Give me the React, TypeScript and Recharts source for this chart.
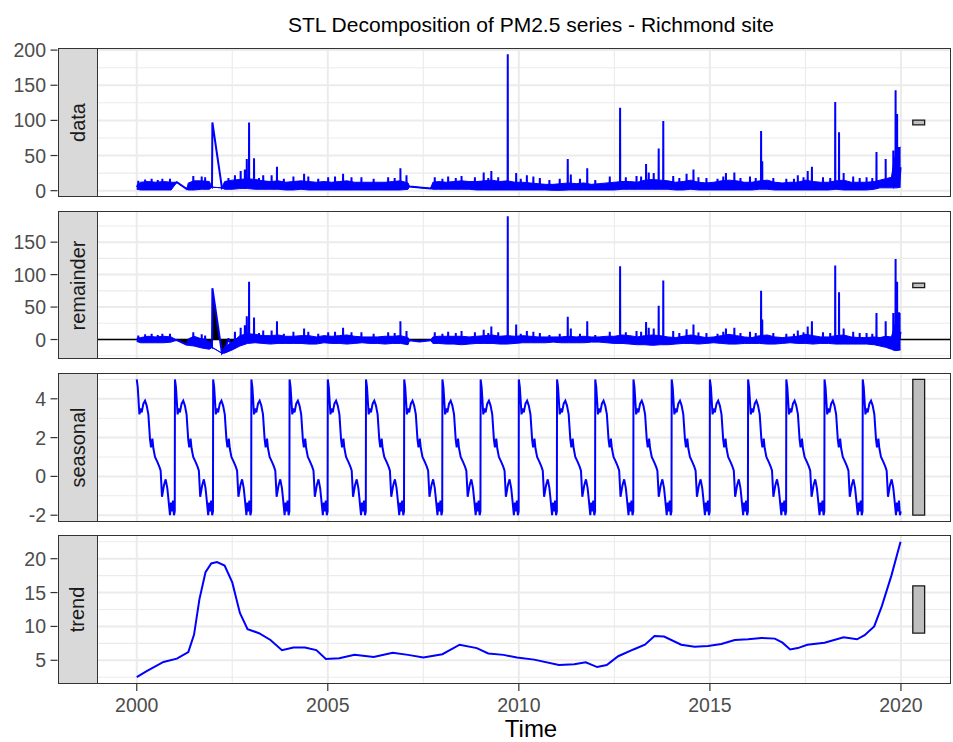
import React from 'react';
import { Area, CartesianGrid, ComposedChart, Line, ReferenceArea, XAxis, YAxis } from 'recharts';

const FONT = '"Liberation Sans", Arial, Helvetica, sans-serif';
const BLUE = '#0000FF';
const X_MIN = 1998.96;
const X_MAX = 2021.31;
const PAD = 20;

const xMajor = [2000, 2005, 2010, 2015, 2020];
const xMinor = [2002.5, 2007.5, 2012.5, 2017.5];

const panelLabels = ['data', 'remainder', 'seasonal', 'trend'];

// noise band of the daily series (lower / upper envelope), shared times
const bandTime = [
  2000.0, 2000.1, 2000.3, 2000.5, 2000.7, 2000.9, 2001.05, 2001.31, 2001.35, 2001.5,
  2001.7, 2001.9, 2001.97, 2002.23, 2002.3, 2002.5, 2002.7, 2002.9, 2003.1, 2003.3,
  2003.5, 2003.7, 2003.9, 2004.1, 2004.3, 2004.5, 2004.7, 2004.9, 2005.1, 2005.3,
  2005.5, 2005.7, 2005.9, 2006.1, 2006.3, 2006.5, 2006.7, 2006.9, 2007.1, 2007.14,
  2007.4, 2007.69, 2007.75, 2007.9, 2008.1, 2008.3, 2008.5, 2008.7, 2008.9, 2009.1,
  2009.3, 2009.5, 2009.7, 2009.9, 2010.1, 2010.3, 2010.5, 2010.7, 2010.9, 2011.1,
  2011.3, 2011.5, 2011.7, 2011.9, 2012.1, 2012.3, 2012.5, 2012.7, 2012.9, 2013.1,
  2013.3, 2013.5, 2013.7, 2013.9, 2014.1, 2014.3, 2014.5, 2014.7, 2014.9, 2015.1,
  2015.3, 2015.5, 2015.7, 2015.9, 2016.1, 2016.3, 2016.5, 2016.7, 2016.9, 2017.1,
  2017.3, 2017.5, 2017.7, 2017.9, 2018.1, 2018.3, 2018.5, 2018.7, 2018.9, 2019.1,
  2019.3, 2019.45, 2019.6, 2019.75, 2019.83, 2019.9, 2019.99,
];
const dataLow = [
  2, 1, 1, 1, 1, 1, 12, 2.4, 1, 1,
  2, 2, 5, 4, 2, 2, 3, 3, 2, 2,
  2, 2, 1, 1, 2, 1, 1, 1, 1, 1,
  1, 1, 1, 1, 1, 1, 1, 1, 2, 6,
  4.5, 3, 2, 2, 2, 2, 2, 2, 1, 1,
  1, 1, 1, 1, 1, 1, 1, 1, 0.5, 0.5,
  1, 1, 1, 1, 1, 1, 1, 2, 2, 2,
  2, 2, 2, 2, 1, 1, 2, 1, 1, 1,
  1, 1, 1, 1, 1, 2, 2, 1, 1, 1,
  1, 1, 1, 1, 1, 2, 1, 1, 1, 1,
  2, 4, 4, 4, 4, 4, 5,
];
const dataHigh = [
  8, 12, 13, 12, 13, 12, 12, 2.4, 11, 14,
  14, 13, 5, 4, 13, 15, 16, 17, 16, 14,
  13, 14, 12, 13, 14, 13, 12, 13, 12, 13,
  14, 12, 12, 12, 12, 12, 13, 14, 11, 6,
  4.5, 3, 12, 13, 12, 13, 14, 13, 13, 14,
  15, 13, 14, 12, 12, 11, 10, 9, 9, 10,
  11, 10, 11, 9, 10, 11, 12, 13, 13, 12,
  15, 16, 15, 14, 12, 13, 15, 12, 11, 12,
  14, 15, 14, 12, 12, 14, 15, 12, 11, 12,
  12, 15, 13, 12, 12, 14, 15, 12, 12, 12,
  13, 15, 17, 19, 45, 58, 62,
];
const remLow = [
  -3, -5, -5, -5, -5, -4, -1, -8, -9, -10,
  -13, -15, -12, -21, -21, -16, -10, -6, -5, -6,
  -7, -6, -6, -6, -6, -7, -7, -5, -6, -6,
  -7, -6, -5, -6, -6, -7, -6, -6, -8, -1,
  -3, -1, -6, -6, -7, -7, -8, -7, -6, -6,
  -6, -7, -7, -6, -5, -5, -5, -5, -4, -5,
  -5, -5, -5, -4, -4, -5, -6, -6, -7, -8,
  -8, -9, -8, -8, -7, -6, -6, -7, -6, -5,
  -6, -7, -7, -6, -6, -6, -7, -7, -6, -5,
  -6, -6, -7, -6, -6, -7, -7, -7, -7, -7,
  -8, -10, -12, -15, -17, -17, -16,
];
const remHigh = [
  2, 3, 5, 4, 5, 4, -1, -8, 1, 5,
  1, -3, -12, -21, -11, -4, 6, 9, 8, 6,
  6, 7, 5, 5, 6, 6, 4, 6, 5, 6,
  7, 5, 4, 4, 4, 5, 5, 6, 3, -1,
  -3, -1, 4, 5, 5, 5, 5, 4, 5, 6,
  7, 5, 6, 5, 6, 5, 4, 4, 4, 4,
  5, 4, 5, 4, 4, 5, 5, 7, 6, 4,
  6, 7, 6, 4, 3, 5, 7, 5, 3, 4,
  6, 8, 6, 4, 3, 6, 7, 4, 3, 4,
  5, 8, 6, 4, 4, 6, 7, 4, 3, 3,
  4, 3, 5, 4, 20, 35, 40,
];

// isolated pollution spikes
const spikeTime = [
  2001.48, 2002.83, 2002.88, 2002.94, 2003.07, 2003.67, 2004.38, 2005.4, 2006.9, 2007.06,
  2009.08, 2009.28, 2009.71, 2009.93, 2010.21, 2011.28, 2011.36, 2011.79, 2012.65, 2013.33,
  2013.4, 2013.53, 2013.66, 2013.78, 2014.57, 2015.42, 2015.64, 2016.34, 2016.37, 2017.3,
  2017.56, 2017.67, 2018.28, 2018.38, 2018.5, 2019.36, 2019.6, 2019.8, 2019.86, 2019.9,
  2019.95,
];
const dataSpike = [
  21, 30, 45, 97, 46, 34, 24, 24, 32, 22,
  26, 28, 194, 25, 22, 45, 23, 32, 118, 38,
  26, 25, 60, 99, 30, 25, 26, 85, 42, 22,
  28, 34, 126, 83, 25, 55, 45, 57, 143, 109,
  62,
];
const remSpike = [
  11, 22, 36, 89, 34, 28, 17, 18, 28, 13,
  15, 20, 190, 23, 13, 35, 17, 28, 113, 27,
  18, 17, 52, 91, 23, 17, 18, 75, 31, 14,
  20, 28, 114, 73, 17, 41, 28, 41, 124, 89,
  42,
];
// smaller tufts on top of the noise band
const tuftTime = [
  2000.04, 2000.22, 2000.39, 2000.55, 2000.67, 2000.87, 2001.7, 2001.79, 2002.4, 2002.57,
  2002.72, 2003.2, 2003.31, 2003.53, 2003.85, 2004.1, 2004.49, 2004.75, 2005.01, 2005.19,
  2005.62, 2005.88, 2006.2, 2006.58, 2006.75, 2007.8, 2008.0, 2008.15, 2008.35, 2008.5,
  2008.85, 2009.2, 2009.46, 2010.05, 2010.38, 2010.55, 2010.8, 2011.07, 2011.6, 2012.0,
  2012.38, 2012.8, 2013.08, 2013.2, 2014.04, 2014.2, 2014.39, 2014.7, 2014.91, 2015.2,
  2015.35, 2015.8, 2016.05, 2016.2, 2016.66, 2017.0, 2017.2, 2017.45, 2017.96, 2018.15,
  2018.75, 2018.92, 2019.1, 2019.25,
];
const dataTuft = [
  14, 16, 17, 15, 17, 17, 20, 19, 18, 22,
  28, 18, 22, 22, 17, 20, 20, 17, 19, 20,
  19, 19, 17, 19, 18, 19, 17, 20, 18, 21,
  19, 18, 19, 17, 20, 18, 15, 17, 17, 15,
  20, 19, 21, 20, 21, 18, 24, 19, 18, 17,
  20, 18, 20, 18, 18, 17, 17, 19, 19, 18,
  20, 18, 19, 18,
];
const remTuft = [
  6, 8, 9, 7, 9, 9, 8, 6, 2, 12,
  18, 10, 14, 14, 9, 12, 12, 9, 11, 12,
  11, 11, 9, 11, 10, 11, 9, 12, 10, 13,
  11, 10, 11, 9, 12, 10, 7, 9, 9, 7,
  12, 11, 13, 12, 13, 10, 16, 11, 10, 9,
  12, 10, 12, 10, 10, 9, 9, 11, 11, 10,
  12, 10, 10, 9,
];
// the early 2002 peak followed by a gap in the record
const jumpTime = [2001.98];
const dataJump = [97];
const remJump = [79];

// one year of the periodic seasonal component
const seasonFrac = [
  0, 0.026, 0.07, 0.104, 0.13, 0.174, 0.217, 0.26, 0.304, 0.348,
  0.374, 0.409, 0.435, 0.478, 0.539, 0.591, 0.626, 0.661, 0.713, 0.757,
  0.8, 0.826, 0.87, 0.896, 0.922, 0.948, 0.974, 0.995,
];
const seasonValue = [
  5.0, 4.6, 3.2, 3.5, 3.3, 3.75, 3.9, 3.65, 3.2, 1.9,
  1.5, 1.95, 1.45, 1.0, 0.75, 0.5, 0.3, -1.05, -0.45, -0.15,
  -0.6, -1.1, -2.0, -1.35, -1.8, -1.25, -2.0, -1.8,
];
const seasonYears = [
  2000, 2001, 2002, 2003, 2004, 2005, 2006, 2007, 2008, 2009,
  2010, 2011, 2012, 2013, 2014, 2015, 2016, 2017, 2018, 2019,
];

const trendTime = [
  2000.0, 2000.26, 2000.7, 2001.05, 2001.35, 2001.5, 2001.64, 2001.8, 2001.95, 2002.1,
  2002.3, 2002.5, 2002.7, 2002.9, 2003.2, 2003.5, 2003.8, 2004.1, 2004.4, 2004.7,
  2004.95, 2005.3, 2005.7, 2006.2, 2006.7, 2007.1, 2007.5, 2008.0, 2008.45, 2008.9,
  2009.2, 2009.6, 2009.95, 2010.4, 2011.05, 2011.45, 2011.75, 2012.05, 2012.3, 2012.6,
  2013.0, 2013.3, 2013.55, 2013.8, 2014.25, 2014.6, 2014.95, 2015.3, 2015.65, 2016.0,
  2016.35, 2016.7, 2016.9, 2017.1, 2017.3, 2017.55, 2018.0, 2018.5, 2018.85, 2019.05,
  2019.3, 2019.5, 2019.75, 2019.99,
];
const trendValue = [
  2.5, 3.4, 4.75, 5.25, 6.2, 8.8, 14.0, 18.0, 19.3, 19.5,
  19.0, 16.5, 12.0, 9.6, 9.0, 8.0, 6.5, 6.9, 6.9, 6.5,
  5.2, 5.3, 5.8, 5.5, 6.1, 5.8, 5.4, 5.9, 7.3, 6.8,
  6.0, 5.8, 5.4, 5.1, 4.3, 4.4, 4.7, 4.0, 4.3, 5.6,
  6.6, 7.3, 8.6, 8.5, 7.3, 7.0, 7.1, 7.4, 8.0, 8.1,
  8.3, 8.2, 7.6, 6.6, 6.8, 7.3, 7.6, 8.4, 8.1, 8.7,
  10.0, 13.0, 17.5, 22.5,
];

// scale bars on the right of each panel
const rangeBarLow = [93.5, 80, -2, 9];
const rangeBarHigh = [100.5, 87, 5, 16];

type Row = { t: number; band?: [number, number]; line?: number; zero?: number };

function noisyRows(
  low: number[],
  high: number[],
  spikes: number[],
  tufts: number[],
  base: number,
  jumps: number[]
): Row[] {
  const rows: Row[] = bandTime.map((t, i) => ({
    t,
    band: [low[i], high[i]] as [number, number],
    line: (low[i] + high[i]) / 2,
  }));
  const addPeak = (t: number, v: number) => {
    rows.push({ t: t - 0.004, line: base }, { t, line: v }, { t: t + 0.004, line: base });
  };
  spikeTime.forEach((t, i) => addPeak(t, spikes[i]));
  tuftTime.forEach((t, i) => addPeak(t, tufts[i]));
  jumpTime.forEach((t, i) => rows.push({ t, line: jumps[i] }));
  rows.push({ t: X_MIN, zero: 0 }, { t: X_MAX, zero: 0 });
  return rows.sort((a, b) => a.t - b.t);
}

const dataRows = noisyRows(dataLow, dataHigh, dataSpike, dataTuft, 7, dataJump);
const remRows = noisyRows(remLow, remHigh, remSpike, remTuft, 0, remJump);
const seasonRows: Row[] = seasonYears.flatMap((y) => seasonFrac.map((f, i) => ({ t: y + f, line: seasonValue[i] })));
const trendRows: Row[] = trendTime.map((t, i) => ({ t, line: trendValue[i] }));

const panels = [
  { top: 48, h: 149, domain: [-9, 203], major: [0, 50, 100, 150, 200], minor: [25, 75, 125, 175], rows: dataRows },
  { top: 211, h: 148, domain: [-30, 198], major: [0, 50, 100, 150], minor: [-25, 25, 75, 125, 175], rows: remRows },
  { top: 373, h: 149, domain: [-2.35, 5.33], major: [-2, 0, 2, 4], minor: [-1, 1, 3, 5], rows: seasonRows },
  { top: 535, h: 149, domain: [1.5, 23.5], major: [5, 10, 15, 20], minor: [2.5, 7.5, 12.5, 17.5, 22.5], rows: trendRows },
];

const YTick = (props: any) => {
  const { y, payload } = props;
  return (
    <g>
      <line x1={50.5} x2={57.5} y1={y} y2={y} stroke="#333333" strokeWidth={1.2} />
      <text x={46} y={y} dy="0.36em" textAnchor="end" fill="#4D4D4D" fontSize={19.5} fontFamily={FONT}>
        {payload.value}
      </text>
    </g>
  );
};

const XTick = (props: any) => {
  const { x, payload, base } = props;
  return (
    <g>
      <line x1={x} x2={x} y1={base} y2={base + 7} stroke="#333333" strokeWidth={1.2} />
      <text x={x} y={base + 27.5} textAnchor="middle" fill="#4D4D4D" fontSize={19.5} fontFamily={FONT}>
        {payload.value}
      </text>
    </g>
  );
};

function Panel({ index }: { index: number }) {
  const p = panels[index];
  const last = index === panels.length - 1;
  const height = PAD + p.h + (last ? 45 : PAD);
  return (
    <>
      <div style={{ position: 'absolute', left: 0, top: p.top - PAD }}>
        <ComposedChart
          width={953}
          height={height}
          data={p.rows}
          margin={{ top: PAD, right: 2, bottom: last ? 0 : PAD, left: 0 }}
        >
          <CartesianGrid stroke="#EBEBEB" strokeWidth={1.1} horizontalValues={p.minor} verticalValues={xMinor} />
          <CartesianGrid stroke="#EBEBEB" strokeWidth={2} horizontalValues={p.major} verticalValues={xMajor} />
          <XAxis
            type="number"
            dataKey="t"
            domain={[X_MIN, X_MAX]}
            ticks={xMajor}
            interval={0}
            allowDataOverflow
            hide={!last}
            height={45}
            axisLine={false}
            tickLine={false}
            tick={(tp: any) => <XTick {...tp} base={PAD + p.h} />}
          />
          <YAxis
            type="number"
            domain={p.domain}
            ticks={p.major}
            interval={0}
            allowDataOverflow
            width={97}
            axisLine={false}
            tickLine={false}
            tick={YTick}
          />
          {index === 1 && (
            <Area
              dataKey="zero"
              type="linear"
              stroke="#000000"
              strokeWidth={1.5}
              fill="none"
              baseValue={0}
              connectNulls
              dot={false}
              activeDot={false}
              isAnimationActive={false}
            />
          )}
          {index === 1 && (
            <Area
              dataKey="line"
              type="linear"
              stroke="none"
              fill="#000000"
              fillOpacity={1}
              baseValue={0}
              connectNulls
              dot={false}
              activeDot={false}
              isAnimationActive={false}
            />
          )}
          {index < 2 && (
            <Area
              dataKey="band"
              type="linear"
              stroke={BLUE}
              strokeWidth={1}
              fill={BLUE}
              fillOpacity={1}
              connectNulls
              dot={false}
              activeDot={false}
              isAnimationActive={false}
            />
          )}
          <Line
            dataKey="line"
            type="linear"
            stroke={BLUE}
            strokeWidth={2}
            dot={false}
            activeDot={false}
            connectNulls
            isAnimationActive={false}
          />
          <ReferenceArea
            x1={2020.31}
            x2={2020.62}
            y1={rangeBarLow[index]}
            y2={rangeBarHigh[index]}
            fill="#BEBEBE"
            fillOpacity={1}
            stroke="#1A1A1A"
            strokeWidth={1.3}
            ifOverflow="visible"
          />
        </ComposedChart>
      </div>
      <div
        style={{
          position: 'absolute',
          left: 97,
          top: p.top,
          width: 854,
          height: p.h,
          border: '1px solid #333333',
          boxSizing: 'border-box',
          pointerEvents: 'none',
        }}
      />
      <div
        style={{
          position: 'absolute',
          left: 58,
          top: p.top,
          width: 40,
          height: p.h,
          background: '#D9D9D9',
          border: '1px solid #333333',
          boxSizing: 'border-box',
          display: 'flex',
          alignItems: 'center',
          justifyContent: 'center',
        }}
      >
        <span
          style={{
            transform: 'rotate(-90deg)',
            whiteSpace: 'nowrap',
            fontSize: 20,
            color: '#1A1A1A',
            fontFamily: FONT,
          }}
        >
          {panelLabels[index]}
        </span>
      </div>
    </>
  );
}

export default function App() {
  return (
    <div
      style={{
        position: 'absolute',
        left: 0,
        top: 0,
        width: 953,
        height: 742,
        background: '#FFFFFF',
        fontFamily: FONT,
        overflow: 'hidden',
      }}
    >
      <div
        style={{
          position: 'absolute',
          left: 531,
          top: 14,
          transform: 'translateX(-50%)',
          whiteSpace: 'nowrap',
          fontSize: 21,
          lineHeight: '22px',
          color: '#000000',
        }}
      >
        STL Decomposition of PM2.5 series - Richmond site
      </div>
      {panels.map((_, i) => (
        <Panel key={i} index={i} />
      ))}
      <div
        style={{
          position: 'absolute',
          left: 531,
          top: 717,
          transform: 'translateX(-50%)',
          whiteSpace: 'nowrap',
          fontSize: 24,
          lineHeight: '24px',
          color: '#000000',
        }}
      >
        Time
      </div>
    </div>
  );
}
